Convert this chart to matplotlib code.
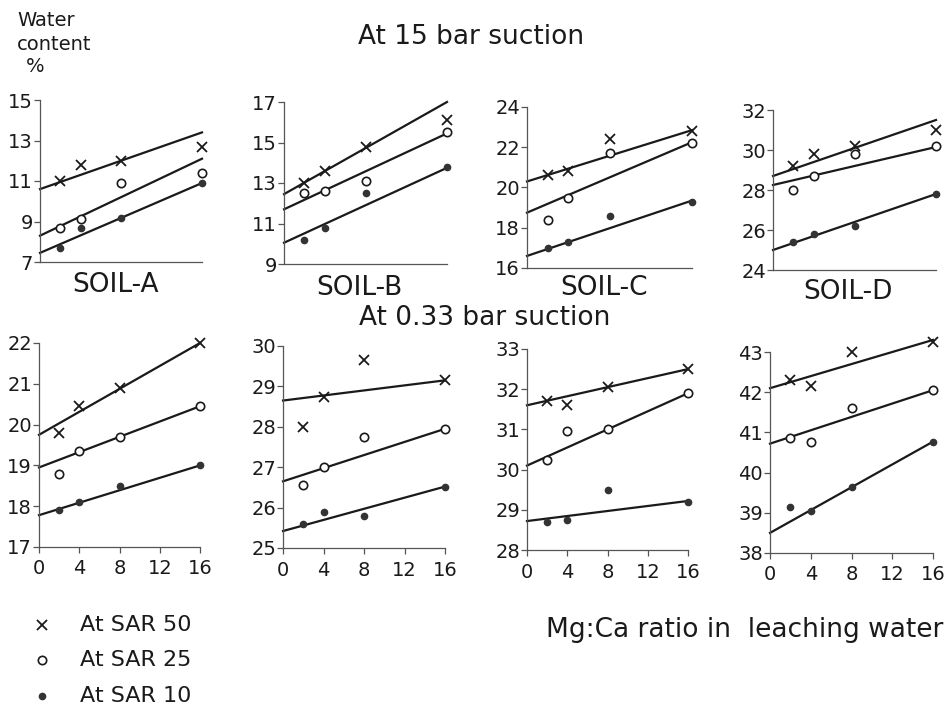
import matplotlib
matplotlib.use("Agg")
from matplotlib import pyplot as plt

W, H = 952, 708

mg_ca = [2, 4, 8, 16]
fit_x = [0, 16]
soils = ["SOIL-A", "SOIL-B", "SOIL-C", "SOIL-D"]

# at 15 bar suction, one list per soil (A, B, C, D)
sar50_15 = [[11.0, 11.8, 12.0, 12.7], [13.0, 13.6, 14.8, 16.1], [20.6, 20.8, 22.4, 22.8], [29.2, 29.8, 30.2, 31.0]]
sar25_15 = [[8.7, 9.1, 10.9, 11.4], [12.5, 12.6, 13.1, 15.5], [18.4, 19.5, 21.7, 22.2], [28.0, 28.7, 29.8, 30.2]]
sar10_15 = [[7.7, 8.7, 9.15, 10.9], [10.2, 10.8, 12.5, 13.8], [17.0, 17.3, 18.6, 19.3], [25.4, 25.8, 26.2, 27.8]]
# fitted lines, value at ratio 0 and at ratio 16
fit50_15 = [[10.6, 13.4], [12.45, 17.0], [20.3, 22.85], [28.7, 31.5]]
fit25_15 = [[8.3, 12.1], [11.7, 15.45], [18.75, 22.25], [28.25, 30.15]]
fit10_15 = [[7.45, 10.9], [10.05, 13.75], [16.6, 19.35], [25.0, 27.8]]

# at 0.33 bar suction
sar50_033 = [[19.8, 20.45, 20.9, 22.0], [28.0, 28.75, 29.65, 29.15], [31.7, 31.6, 32.05, 32.5], [42.3, 42.15, 43.0, 43.25]]
sar25_033 = [[18.8, 19.35, 19.7, 20.45], [26.55, 27.0, 27.75, 27.95], [30.25, 30.95, 31.0, 31.9], [40.85, 40.75, 41.6, 42.05]]
sar10_033 = [[17.9, 18.1, 18.5, 19.0], [25.6, 25.9, 25.8, 26.5], [28.7, 28.75, 29.5, 29.2], [39.15, 39.05, 39.65, 40.75]]
fit50_033 = [[19.75, 22.0], [28.65, 29.15], [31.6, 32.5], [42.1, 43.3]]
fit25_033 = [[18.95, 20.45], [26.65, 27.95], [30.1, 31.9], [40.72, 42.05]]
fit10_033 = [[17.78, 19.0], [25.42, 26.52], [28.72, 29.22], [38.5, 40.77]]

ylims_15 = [(7, 15), (9, 17), (16, 24), (24, 32)]
ylims_033 = [(17, 22), (25, 30), (28, 33), (38, 43)]
xticks = [0, 4, 8, 12, 16]

# axes boxes in pixels: left, right, top, bottom
boxes_15 = [(40, 202, 100, 262), (284, 447, 102, 264), (527, 692, 107, 268), (773, 936, 110, 270)]
boxes_033 = [(39, 200, 343, 547), (283, 445, 346, 548), (527, 688, 349, 550), (770, 933, 352, 553)]
soil_label_pos = [(116, 285), (359, 288), (604, 288), (848, 292)]

ink = "#1a1a1a"
plt.rcParams['font.family'] = ['DejaVu Sans']


def px_box(b):
    l, r, t, btm = b
    return [l / W, 1 - btm / H, (r - l) / W, (btm - t) / H]


def fig_text(x, y, s, size, ha="center"):
    fig.text(x / W, 1 - y / H, s, fontsize=size, ha=ha, va="center", color=ink)


def panel(ax, ylim, step, s50, s25, s10, f50, f25, f10, bottom):
    for f in (f50, f25, f10):
        ax.plot(fit_x, f, color=ink, lw=1.6, clip_on=False, zorder=2)
    ax.plot(mg_ca, s50, ls="none", marker="x", ms=6.5, mew=1.3, color=ink, clip_on=False, zorder=3)
    ax.plot(mg_ca, s25, ls="none", marker="o", ms=6, mew=1.2, mfc="white", mec=ink, clip_on=False, zorder=3)
    ax.plot(mg_ca, s10, ls="none", marker="o", ms=4.5, color="#333333", clip_on=False, zorder=3)

    ax.set_xlim(0, 16)
    ax.set_ylim(*ylim)
    ax.set_yticks(range(ylim[0], ylim[1] + 1, step))
    for side in ("top", "right"):
        ax.spines[side].set_visible(False)
    for side in ("left", "bottom"):
        ax.spines[side].set_color("#555555")
        ax.spines[side].set_linewidth(0.9)
    ax.tick_params(axis="y", direction="out", length=4, width=0.9, color="#555555",
                   labelsize=14, pad=1, labelcolor=ink)
    if bottom:
        ax.set_xticks(xticks)
        ax.tick_params(axis="x", direction="out", length=4, width=0.9, color="#555555",
                       labelsize=14, pad=5, labelcolor=ink)
    else:
        ax.set_xticks([])
    ax.patch.set_alpha(0)


fig = plt.figure(figsize=(W / 100, H / 100), dpi=100)

for i in range(4):
    ax = fig.add_axes(px_box(boxes_15[i]))
    panel(ax, ylims_15[i], 2, sar50_15[i], sar25_15[i], sar10_15[i],
          fit50_15[i], fit25_15[i], fit10_15[i], False)
    ax = fig.add_axes(px_box(boxes_033[i]))
    panel(ax, ylims_033[i], 1, sar50_033[i], sar25_033[i], sar10_033[i],
          fit50_033[i], fit25_033[i], fit10_033[i], True)

for name, (x, y) in zip(soils, soil_label_pos):
    fig_text(x, y, name, 19)

fig_text(471, 37, "At 15 bar suction", 19)
fig_text(485, 318, "At 0.33 bar suction", 19)

fig_text(17, 20, "Water", 14, ha="left")
fig_text(17, 44, "content", 14, ha="left")
fig_text(26, 66, "%", 14, ha="left")

fig_text(745, 630, "Mg:Ca ratio in  leaching water", 19)

# legend drawn by hand at the lower left
leg_y = [625, 660, 696]
leg_text = ["At SAR 50", "At SAR 25", "At SAR 10"]
leg_ax = fig.add_axes([0, 0, 1, 1])
leg_ax.set_xlim(0, W)
leg_ax.set_ylim(H, 0)
leg_ax.axis("off")
leg_ax.plot(42, leg_y[0], marker="x", ms=6.5, mew=1.3, color=ink)
leg_ax.plot(42, leg_y[1], marker="o", ms=6, mew=1.2, mfc="white", mec=ink)
leg_ax.plot(42, leg_y[2], marker="o", ms=4.5, color="#333333")
for y, s in zip(leg_y, leg_text):
    fig_text(80, y, s, 16, ha="left")

fig.savefig("out.png", dpi=100)
